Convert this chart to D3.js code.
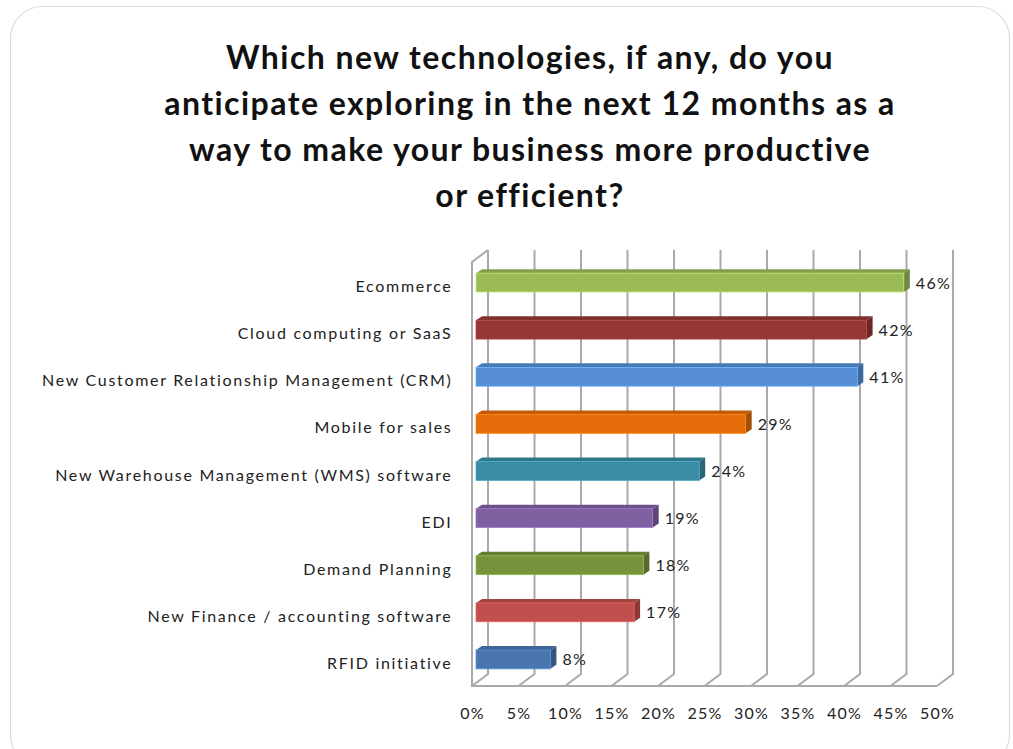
<!DOCTYPE html>
<html>
<head>
<meta charset="utf-8">
<script src="https://cdn.jsdelivr.net/npm/d3@7"></script>
<style>
  html, body { margin: 0; padding: 0; background: #fff; }
  svg { display: block; }
</style>
</head>
<body>
<svg id="chart" width="1013" height="749"></svg>
<script>
// Survey answers, highest share first
const categories = [
  "Ecommerce",
  "Cloud computing or SaaS",
  "New Customer Relationship Management (CRM)",
  "Mobile for sales",
  "New Warehouse Management (WMS) software",
  "EDI",
  "Demand Planning",
  "New Finance / accounting software",
  "RFID initiative"
];
const values = [46, 42, 41, 29, 24, 19, 18, 17, 8];
const barColors = ["#9BBB59", "#953735", "#558ED5", "#E46C0A", "#3A8CA3", "#7F60A1", "#77933C", "#C0504D", "#4A76B0"];
const tickValues = [0, 5, 10, 15, 20, 25, 30, 35, 40, 45, 50];
const titleLines = [
  "Which new technologies, if any, do you",
  "anticipate exploring in the next 12 months as a",
  "way to make your business more productive",
  "or efficient?"
];

const FONT = "Lato, 'Open Sans', sans-serif";
const svg = d3.select("#chart");

// Rounded card behind everything
svg.append("rect")
  .attr("x", 10.5).attr("y", 6.5)
  .attr("width", 999).attr("height", 760)
  .attr("rx", 32).attr("ry", 32)
  .attr("fill", "#fff")
  .attr("stroke", "#dcdcdc")
  .attr("stroke-width", 1.2);

// Title
svg.append("g")
  .selectAll("text")
  .data(titleLines)
  .join("text")
  .attr("x", 530)
  .attr("y", (d, i) => 69 + i * 46)
  .attr("text-anchor", "middle")
  .attr("font-family", FONT)
  .attr("font-weight", 700)
  .attr("font-size", 32)
  .attr("letter-spacing", 1.45)
  .attr("fill", "#111")
  .text(d => d);

// Plot geometry: front plane, and the depth offset of the back wall
const x = d3.scaleLinear().domain([0, 50]).range([472, 937]);
const y = d3.scaleBand().domain(categories).range([262, 686]).paddingInner(0.6).paddingOuter(0.3);
const wall = { dx: 16, dy: -12 };
const frontTop = 262, frontBottom = 686;

const grid = svg.append("g")
  .attr("stroke", "#a9a9a9")
  .attr("stroke-width", 2)
  .attr("fill", "none");

// Back-wall gridlines and their floor diagonals
tickValues.forEach(t => {
  const xb = x(t) + wall.dx;
  grid.append("path")
    .attr("d", `M${xb},${frontTop + wall.dy} L${xb},${frontBottom + wall.dy} L${x(t)},${frontBottom}`);
});
// Left wall edge and front floor edge
grid.append("path")
  .attr("d", `M${x(0) + wall.dx},${frontTop + wall.dy} L${x(0)},${frontTop} L${x(0)},${frontBottom} L${x(50)},${frontBottom}`);

// 3D bars: front face, top face, right side face
const bar = { ox: 4, oy: -3, dx: 6, dy: -4 };
const bars = svg.append("g")
  .selectAll("g")
  .data(values.map((v, i) => ({ v, c: categories[i], color: barColors[i] })))
  .join("g");

bars.each(function(d) {
  const g = d3.select(this);
  const x0 = x(0) + bar.ox, x1 = x(d.v) + bar.ox;
  const y0 = y(d.c) + bar.oy, y1 = y0 + y.bandwidth();
  const base = d3.color(d.color);
  // top face
  g.append("path")
    .attr("d", `M${x0},${y0} L${x0 + bar.dx},${y0 + bar.dy} L${x1 + bar.dx},${y0 + bar.dy} L${x1},${y0} Z`)
    .attr("fill", base.darker(0.45));
  // side face
  g.append("path")
    .attr("d", `M${x1},${y0} L${x1 + bar.dx},${y0 + bar.dy} L${x1 + bar.dx},${y1 + bar.dy} L${x1},${y1} Z`)
    .attr("fill", base.darker(0.9));
  // front face
  g.append("rect")
    .attr("x", x0).attr("y", y0)
    .attr("width", x1 - x0).attr("height", y1 - y0)
    .attr("fill", d.color)
    .attr("stroke", base.brighter(0.6))
    .attr("stroke-width", 0.8);
  // value label
  g.append("text")
    .attr("x", x1 + bar.dx + 6)
    .attr("y", (y0 + y1) / 2 + 6)
    .attr("font-family", FONT)
    .attr("font-size", 16)
    .attr("letter-spacing", 1.3)
    .attr("fill", "#222")
    .text(d.v + "%");
});

// Category labels
svg.append("g")
  .selectAll("text")
  .data(categories)
  .join("text")
  .attr("x", 452.5)
  .attr("y", d => y(d) + y.bandwidth() / 2 + 6.5)
  .attr("text-anchor", "end")
  .attr("font-family", FONT)
  .attr("font-size", 16)
  .attr("letter-spacing", 1.7)
  .attr("fill", "#222")
  .text(d => d);

// Percentage axis labels
svg.append("g")
  .selectAll("text")
  .data(tickValues)
  .join("text")
  .attr("x", d => x(d) + 0.6)
  .attr("y", 719)
  .attr("text-anchor", "middle")
  .attr("font-family", FONT)
  .attr("font-size", 16)
  .attr("letter-spacing", 1.2)
  .attr("fill", "#222")
  .text(d => d + "%");
</script>
</body>
</html>
